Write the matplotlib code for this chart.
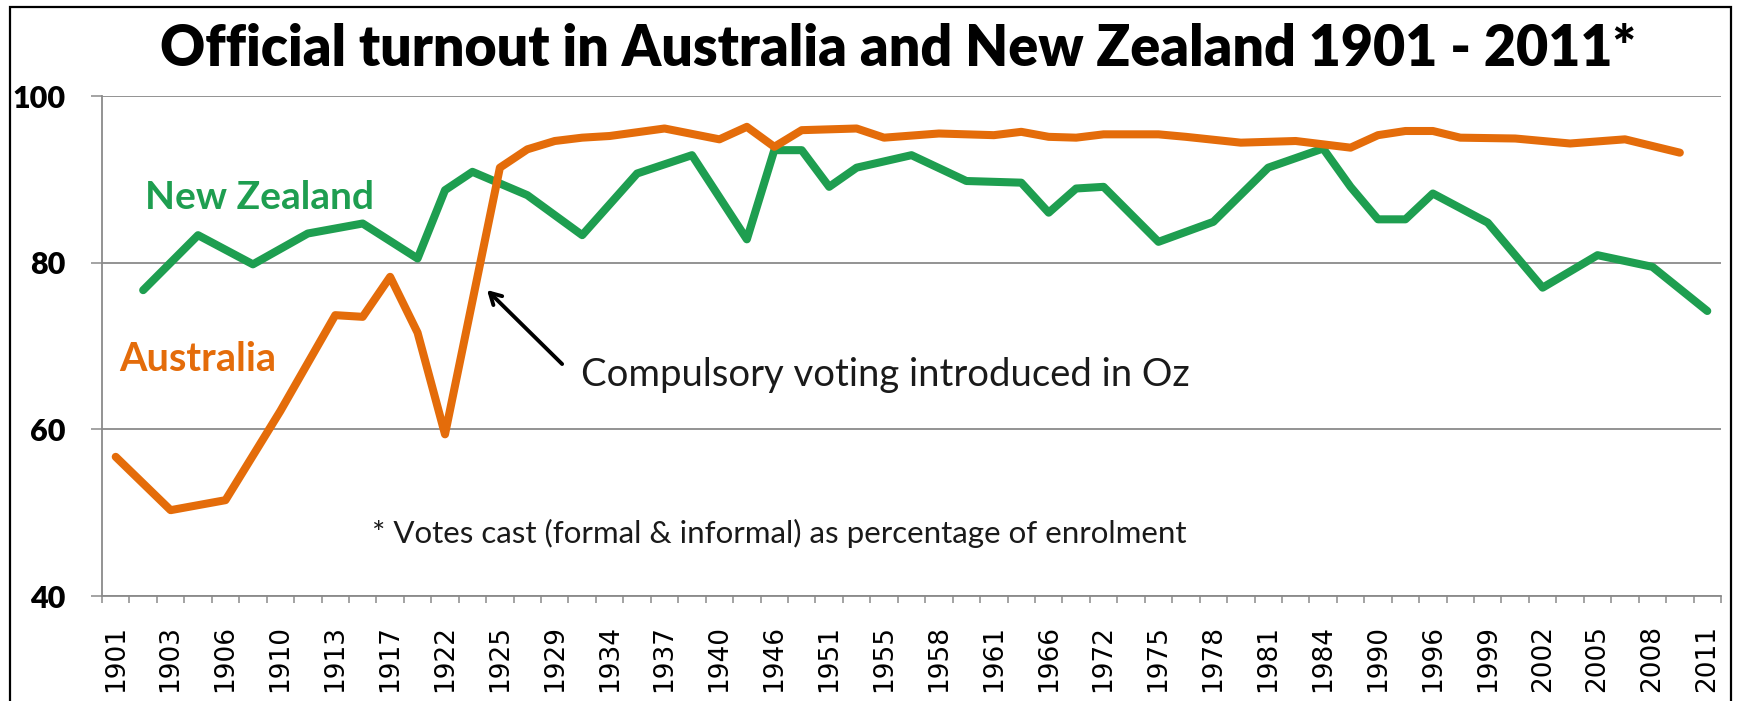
import numpy as np
import matplotlib
matplotlib.use("Agg")
import matplotlib.pyplot as plt
from matplotlib.patches import Rectangle

# election years on the shared category axis (only every second one is labelled)
years = ['1901', '1902', '1903', '1905', '1906', '1908', '1910', '1911', '1913', '1914',
         '1917', '1919', '1922', '1925', '1925', '1928', '1929', '1931', '1934', '1935',
         '1937', '1938', '1940', '1943', '1946', '1949', '1951', '1954', '1955', '1957',
         '1958', '1960', '1961', '1963', '1966', '1969', '1972', '1974', '1975', '1977',
         '1978', '1980', '1981', '1983', '1984', '1987', '1990', '1993', '1996', '1998',
         '1999', '2001', '2002', '2004', '2005', '2007', '2008', '2010', '2011']

nan = np.nan
australia = [56.7, nan, 50.3, nan, 51.5, nan, 62.2, nan, 73.7, 73.5,
             78.3, 71.6, 59.4, nan, 91.4, 93.6, 94.6, 95.0, 95.2, nan,
             96.1, nan, 94.8, 96.3, 93.9, 95.9, 96.0, 96.1, 95.0, nan,
             95.5, nan, 95.3, 95.7, 95.1, 95.0, 95.4, 95.4, 95.4, 95.1,
             nan, 94.4, nan, 94.6, 94.2, 93.8, 95.3, 95.8, 95.8, 95.0,
             nan, 94.9, nan, 94.3, nan, 94.8, nan, 93.2, nan]

new_zealand = [nan, 76.7, nan, 83.3, nan, 79.8, nan, 83.5, nan, 84.7,
               nan, 80.5, 88.7, 90.9, nan, 88.1, nan, 83.3, nan, 90.7,
               nan, 92.9, nan, 82.8, 93.5, 93.5, 89.1, 91.4, nan, 92.9,
               nan, 89.8, nan, 89.6, 86.0, 88.9, 89.1, nan, 82.5, nan,
               84.9, nan, 91.4, nan, 93.7, 89.1, 85.2, 85.2, 88.3, nan,
               84.8, nan, 77.0, nan, 80.9, nan, 79.5, nan, 74.2]

y_ticks = [40, 60, 80, 100]

ORANGE = '#E46C0A'
GREEN = '#1E9E50'
GRID = '#8A8A8A'
FONT = ['Lato', 'DejaVu Sans']

fig = plt.figure(figsize=(17.37, 7.01), dpi=100)
ax = fig.add_axes([102 / 1737, 1 - 596 / 701, (1721 - 102) / 1737, (596 - 96) / 701])

idx = np.arange(len(years))
for vals, col in [(new_zealand, GREEN), (australia, ORANGE)]:
    v = np.array(vals, dtype=float)
    ok = ~np.isnan(v)
    ax.plot(idx[ok], v[ok], color=col, lw=5.8, solid_joinstyle='round',
            solid_capstyle='round', zorder=3)

ax.set_xlim(-0.5, len(years) - 0.5)
ax.set_ylim(40, 100)

# y axis
ax.set_yticks(y_ticks)
ax.set_yticklabels([str(t) for t in y_ticks], fontfamily=FONT, fontweight='heavy', fontsize=22)
ax.tick_params(axis='y', direction='out', length=8, width=1.1, color=GRID, pad=18)
ax.yaxis.grid(True, color=GRID, lw=1.3, zorder=0)
ax.set_axisbelow(True)

# x axis: labels on every other category, ticks between categories
ax.set_xticks(idx[::2])
ax.set_xticklabels(years[::2], rotation=90, fontfamily='DejaVu Sans', fontsize=19)
ax.tick_params(axis='x', which='major', length=0, pad=21)
ax.set_xticks(np.arange(-0.5, len(years), 1.0), minor=True)
ax.tick_params(axis='x', which='minor', direction='out', length=5, width=1.1, color=GRID)

for s in ['top', 'right']:
    ax.spines[s].set_visible(False)
for s in ['left', 'bottom']:
    ax.spines[s].set_color(GRID)
    ax.spines[s].set_linewidth(1.3)

# title
fig.text(898 / 1737, 1 - 66 / 701, 'Official turnout in Australia and New Zealand 1901 - 2011*',
         ha='center', va='baseline', fontsize=40, fontweight='heavy', fontfamily=FONT)

# series labels
ax.text(1.07, 87.8, 'New Zealand', color=GREEN, fontsize=28, fontweight='bold',
        fontfamily=FONT, ha='left', va='center')
ax.text(0.12, 68.4, 'Australia', color=ORANGE, fontsize=28.5, fontweight='bold',
        fontfamily=FONT, ha='left', va='center')

# annotation
ax.annotate('', xy=(13.46, 76.95), xytext=(16.34, 67.6),
            arrowprops=dict(arrowstyle='->,head_length=0.8,head_width=0.45', color='black', lw=2.8))
ax.text(16.96, 65.2, 'Compulsory voting introduced in Oz', fontsize=27.5,
        fontfamily=FONT, ha='left', va='baseline', color='#1a1a1a')

ax.text(9.34, 47.5, '* Votes cast (formal & informal) as percentage of enrolment', fontsize=22.5,
        fontfamily=FONT, ha='left', va='center', color='#1a1a1a')

# outer frame
fig.add_artist(Rectangle((10 / 1737, -0.1), (1731 - 10) / 1737, 1.1 - 7 / 701,
                         transform=fig.transFigure, fill=False, ec='black', lw=1.6))

fig.savefig('out.png', dpi=100, facecolor='white')
